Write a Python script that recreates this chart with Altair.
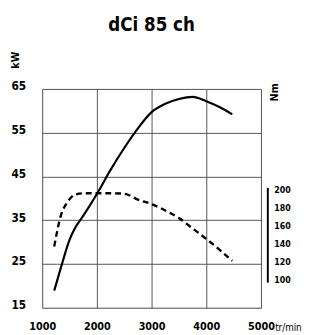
import altair as alt
import pandas as pd

rpm_power = [1220, 1350, 1500, 1600, 1750, 2000, 2250, 2500, 2750, 3000, 3250, 3500, 3750, 4000, 4250, 4475]
kw = [18.9, 24.5, 30.5, 33.2, 36.0, 41.0, 46.5, 51.5, 56.0, 59.7, 61.6, 62.7, 63.2, 62.2, 60.8, 59.2]

rpm_torque = [1220, 1340, 1460, 1600, 1750, 2000, 2250, 2500, 2750, 3000, 3250, 3500, 3750, 4000, 4250, 4475]
nm = [137, 171, 186, 194.5, 196, 196, 196, 195.5, 189, 184, 177, 168.5, 157, 145.5, 133, 121]

x_ticks = [1000, 2000, 3000, 4000, 5000]
kw_ticks = [15, 25, 35, 45, 55, 65]
nm_ticks = [100, 120, 140, 160, 180, 200]
nm_bar = [97, 202]

FONT = "Liberation Sans Narrow, DejaVu Sans Condensed, sans-serif"

power_df = pd.DataFrame({"rpm": rpm_power, "kw": kw})
torque_df = pd.DataFrame({"rpm": rpm_torque, "nm": nm})
bar_df = pd.DataFrame({"lo": [nm_bar[0]], "hi": [nm_bar[1]]})

xscale = alt.Scale(domain=[1000, 5000], nice=False)
kw_scale = alt.Scale(domain=[15, 65], nice=False, zero=False)
nm_scale = alt.Scale(domain=[69.2, 311.6], nice=False, zero=False)

x_enc = alt.X(
    "rpm:Q", scale=xscale,
    axis=alt.Axis(values=x_ticks, grid=True, gridColor="#555", gridWidth=1, ticks=False,
                  domain=False, labelFont=FONT, labelFontWeight="bold", labelFontSize=11,
                  labelColor="#000", labelPadding=13, labelFlush=False,
                  title="tr/min", titleFont=FONT, titleFontWeight="normal", titleFontSize=10,
                  titleColor="#000", titleX=238, titleY=20, titleAlign="left",
                  titleBaseline="middle", format="d"),
)

power = alt.Chart(power_df).mark_line(color="#000", strokeWidth=2.2, interpolate="monotone").encode(
    x=x_enc,
    y=alt.Y("kw:Q", scale=kw_scale,
            axis=alt.Axis(values=kw_ticks, grid=True, gridColor="#555", gridWidth=1, ticks=False,
                          domain=False, labelFont=FONT, labelFontWeight="bold", labelFontSize=12,
                          labelColor="#000", labelPadding=17, labelOffset=-3,
                          title="kW", titleFont=FONT, titleFontWeight="bold", titleFontSize=11,
                          titleColor="#000", titleAngle=270, titleX=-27, titleY=-30,
                          titleAlign="center", titleBaseline="middle")),
)

torque = alt.Chart(torque_df).mark_line(color="#000", strokeWidth=2.4, strokeDash=[6, 4],
                                        interpolate="monotone").encode(
    x=alt.X("rpm:Q", scale=xscale),
    y=alt.Y("nm:Q", scale=nm_scale,
            axis=alt.Axis(orient="right", values=nm_ticks, grid=False, ticks=False, domain=False,
                          offset=7, labelFont=FONT, labelFontWeight="bold", labelFontSize=9,
                          labelColor="#000", labelPadding=6, labelAlign="left",
                          title="Nm", titleFont=FONT, titleFontWeight="bold", titleFontSize=11,
                          titleColor="#000", titleAngle=270, titleX=7, titleY=3,
                          titleAlign="center", titleBaseline="middle")),
)

bar = alt.Chart(bar_df).mark_rule(color="#000", strokeWidth=2).encode(
    x=alt.value(231),
    y=alt.Y("lo:Q", scale=nm_scale, axis=None),
    y2="hi:Q",
)

chart = alt.layer(power, torque, bar).resolve_scale(y="independent").properties(
    width=224, height=224,
    title=alt.TitleParams("dCi 85 ch", font=FONT, fontSize=19, fontWeight="bold", color="#000",
                          anchor="middle", baseline="bottom", offset=-2),
    autosize=alt.AutoSizeParams(type="none"),
    padding={"left": 35, "top": 79, "right": 42, "bottom": 22},
).configure_view(stroke="#222", strokeWidth=1.3).configure(background="white")

chart.save("out.html", embed_options={"renderer": "svg", "actions": False})
